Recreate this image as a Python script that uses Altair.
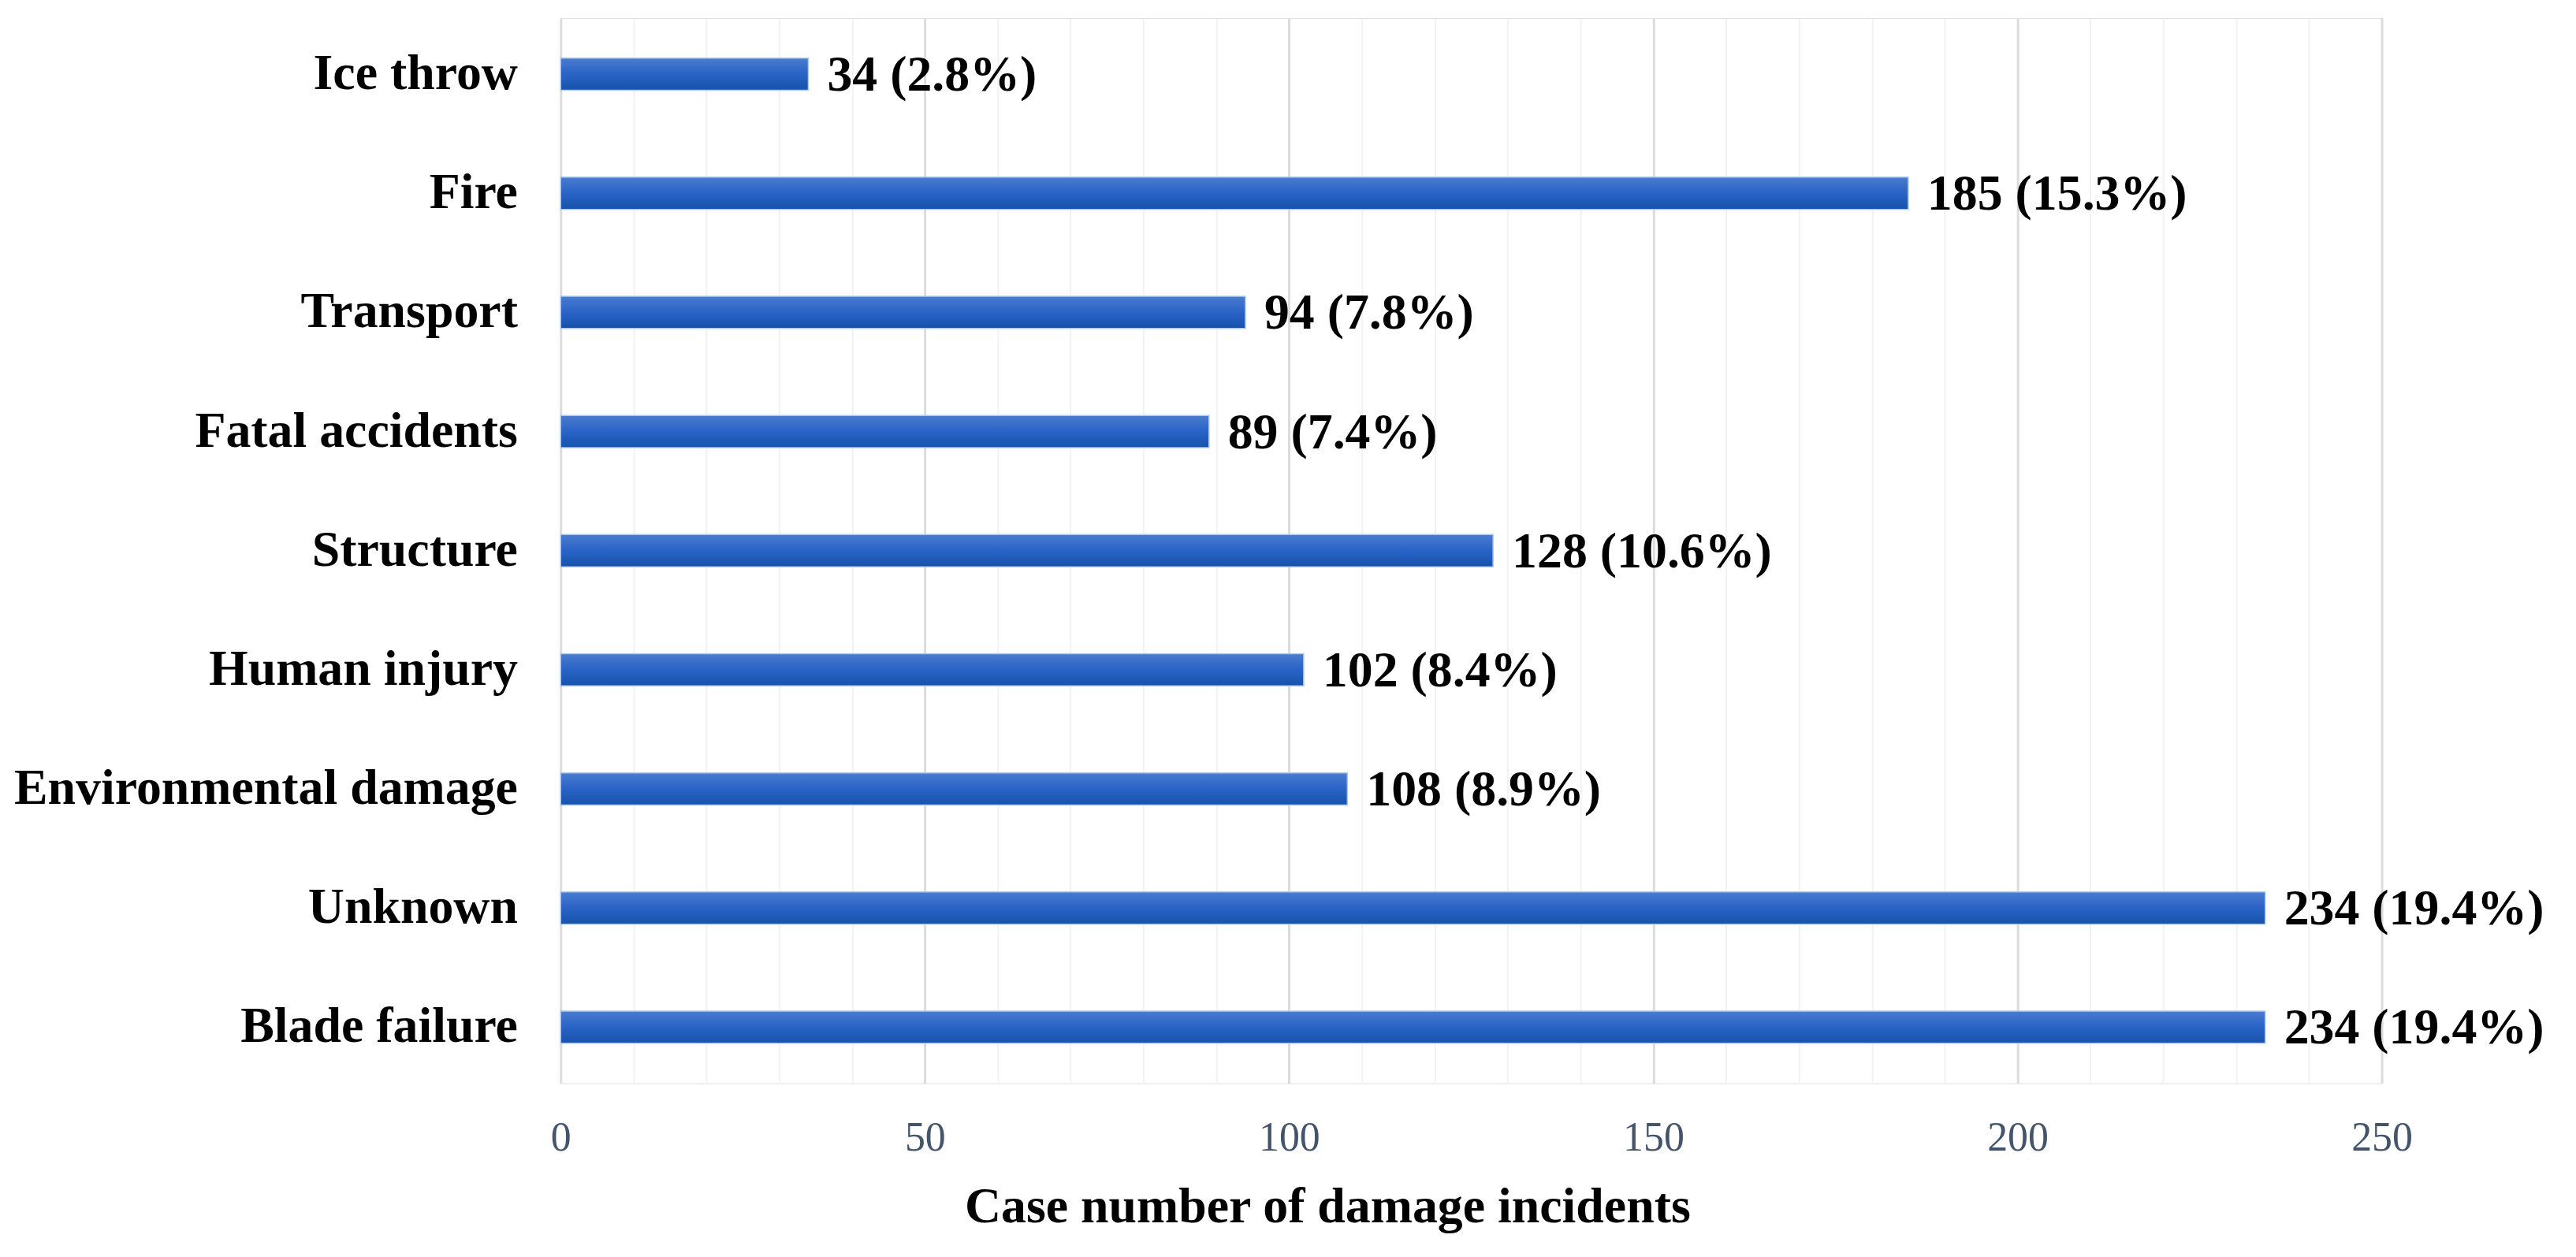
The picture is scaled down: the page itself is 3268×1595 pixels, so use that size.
import altair as alt
import pandas as pd

categories = ["Ice throw", "Fire", "Transport", "Fatal accidents", "Structure",
              "Human injury", "Environmental damage", "Unknown", "Blade failure"]
counts = [34, 185, 94, 89, 128, 102, 108, 234, 234]
percents = ["2.8%", "15.3%", "7.8%", "7.4%", "10.6%", "8.4%", "8.9%", "19.4%", "19.4%"]
x_ticks = [0, 50, 100, 150, 200, 250]
grid_values = list(range(0, 251, 10))

df = pd.DataFrame({
    "category": categories,
    "count": counts,
    "label": [f"{c} ({p})" for c, p in zip(counts, percents)],
})

FONT = "Liberation Serif"

grad = alt.Gradient(
    gradient="linear",
    stops=[
        alt.GradientStop(color="#4a7ccf", offset=0),
        alt.GradientStop(color="#2a63c6", offset=0.5),
        alt.GradientStop(color="#1552ac", offset=1),
    ],
    x1=0, x2=0, y1=0, y2=1,
)

y_enc = alt.Y("category:N", sort=categories,
              scale=alt.Scale(paddingInner=0.73, paddingOuter=0.336),
              axis=alt.Axis(title=None, domain=False, ticks=False, grid=False,
                            labelFont=FONT, labelFontSize=64, labelFontWeight="bold",
                            labelColor="#000000", labelPadding=55, labelLimit=1000))

x_enc = alt.X("count:Q",
              scale=alt.Scale(domain=[0, 250], nice=False),
              axis=alt.Axis(values=grid_values, domain=False, ticks=False,
                            labelExpr="datum.value % 50 === 0 ? datum.label : ''",
                            gridColor=alt.ExprRef("datum.value % 50 === 0 ? '#dcdcdc' : '#f2f2f2'"),
                            gridWidth=alt.ExprRef("datum.value % 50 === 0 ? 3 : 2"),
                            labelFont=FONT, labelFontSize=52, labelColor="#44546a",
                            labelPadding=44, labelFlush=False,
                            title="Case number of damage incidents",
                            titleFont=FONT, titleFontSize=64, titleFontWeight="bold",
                            titleColor="#000000", titlePadding=30,
                            titleX=975, titleAlign="center", titleAnchor="start"))

bars = alt.Chart(df).mark_bar(color=grad, stroke="#a9c8ec", strokeWidth=1.5).encode(
    x=x_enc, y=y_enc)

text = alt.Chart(df).mark_text(align="left", baseline="middle", dx=24, dy=2,
                               font=FONT, fontSize=64, fontWeight="bold",
                               color="#000000").encode(
    x=alt.X("count:Q"), y=alt.Y("category:N", sort=categories), text="label:N")

chart = (bars + text).properties(
    width=2316, height=1355,
    autosize=alt.AutoSizeParams(type="none"),
    padding={"left": 705, "top": 13, "right": 239, "bottom": 219},
).configure_view(stroke=None).configure(background="white")

chart.save("out.html", embed_options={"renderer": "svg", "actions": False})
